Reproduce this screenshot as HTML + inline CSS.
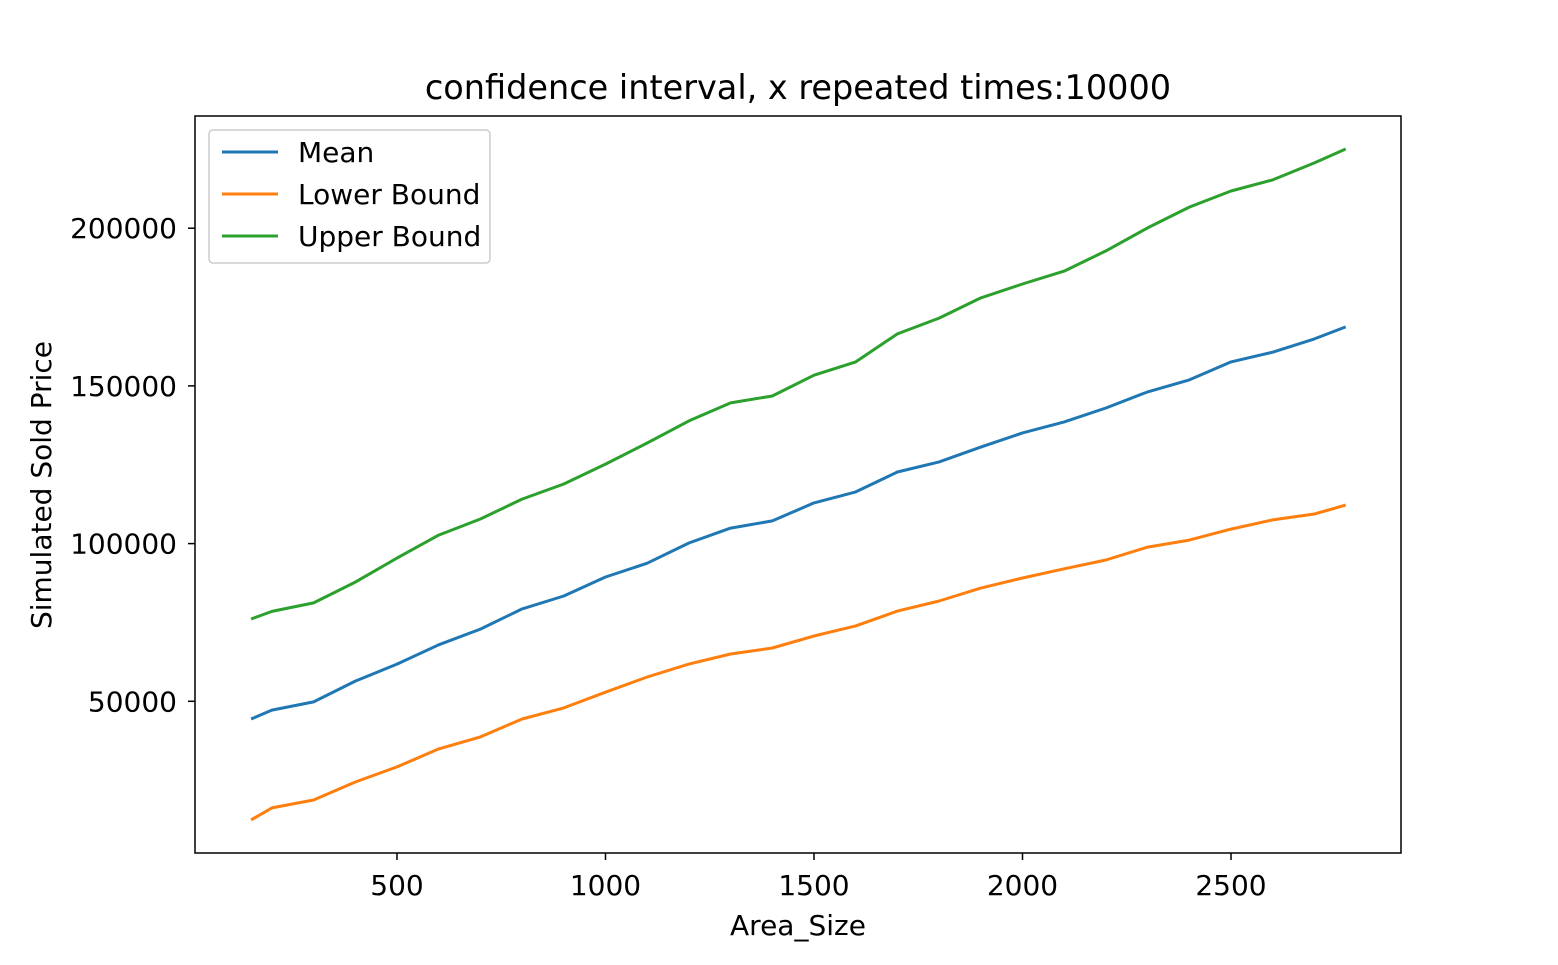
<!DOCTYPE html>
<html><head><meta charset="utf-8"><style>
html,body{margin:0;padding:0;background:#fff}
svg text{font-family:"DejaVu Sans","Liberation Sans",sans-serif;fill:#000}
</style></head><body>
<svg id="chart" width="1558" height="960" xmlns="http://www.w3.org/2000/svg">
<rect width="1558" height="960" fill="#fff"/>
<text x="798" y="99" font-size="33.5" text-anchor="middle">confidence interval, x repeated times:10000</text>
<g id="series"></g>
<g id="xticks"></g>
<g id="yticks"></g>
<rect x="195" y="116" width="1206" height="737" fill="none" stroke="#000" stroke-width="1.5"/>
<text x="798" y="935" font-size="28" text-anchor="middle">Area_Size</text>
<text transform="translate(51,485) rotate(-90)" font-size="28" text-anchor="middle">Simulated Sold Price</text>
<g>
<rect x="209" y="130" width="281" height="133" rx="4" fill="#fff" stroke="#ccc" stroke-width="1.5"/>
<line x1="222" y1="152" x2="278" y2="152" stroke="#1f77b4" stroke-width="3"/>
<text x="298" y="162" font-size="28">Mean</text>
<line x1="222" y1="194" x2="278" y2="194" stroke="#ff7f0e" stroke-width="3"/>
<text x="298" y="204" font-size="28">Lower Bound</text>
<line x1="222" y1="236" x2="278" y2="236" stroke="#2ca02c" stroke-width="3"/>
<text x="298" y="246" font-size="28">Upper Bound</text>
</g>
</svg>
<script>
const xs=[150,200,300,400,500,600,700,800,900,1000,1100,1200,1300,1400,1500,1600,1700,1800,1900,2000,2100,2200,2300,2400,2500,2600,2700,2775];
const meanVals=[44400,47200,49800,56400,61800,67900,72900,79300,83400,89400,93800,100200,104900,107200,112900,116400,122700,125900,130600,135100,138600,143000,148100,151900,157600,160700,164900,168700];
const lowerVals=[12400,16200,18700,24400,29200,34900,38700,44400,47900,52900,57700,61800,65000,66900,70700,73900,78600,81800,85900,89100,92000,94800,98900,101100,104600,107500,109400,112200];
const upperVals=[76100,78500,81200,87800,95400,102700,107800,114100,118900,125200,131900,138900,144600,146800,153400,157600,166500,171500,177900,182300,186400,192800,200100,206700,211800,215300,220700,225100];
const xTicks=[500,1000,1500,2000,2500];
const yTicks=[50000,100000,150000,200000];
const NS="http://www.w3.org/2000/svg";
const xScale=v=>188.5+v*0.417;
const yScale=v=>859-v*157.7/50000;
function mk(t,a){const e=document.createElementNS(NS,t);for(const k in a)e.setAttribute(k,a[k]);return e;}
const sg=document.getElementById('series');
[[meanVals,'#1f77b4','mean-line'],[lowerVals,'#ff7f0e','lower-bound-line'],[upperVals,'#2ca02c','upper-bound-line']].forEach(([vals,c,n])=>{
 const d=vals.map((v,i)=>(i?'L':'M')+xScale(xs[i]).toFixed(1)+','+yScale(v).toFixed(1)).join(' ');
 const p=mk('path',{d:d,fill:'none',stroke:c,'stroke-width':3,'stroke-linejoin':'round'});
 
 
 sg.appendChild(p);
});
const xg=document.getElementById('xticks');
xTicks.forEach(t=>{
 const x=xScale(t);
 const l=mk('line',{x1:x,y1:853,x2:x,y2:860,stroke:'#000','stroke-width':1.5});
 
 
 xg.appendChild(l);
 const tx=mk('text',{x:x,y:895,'font-size':28,'text-anchor':'middle'});
 tx.textContent=t;
 
 
 xg.appendChild(tx);
});
const yg=document.getElementById('yticks');
yTicks.forEach(t=>{
 const y=yScale(t);
 const l=mk('line',{x1:188,y1:y,x2:195,y2:y,stroke:'#000','stroke-width':1.5});
 
 
 yg.appendChild(l);
 const tx=mk('text',{x:177,y:y+10,'font-size':28,'text-anchor':'end'});
 tx.textContent=t;
 
 
 yg.appendChild(tx);
});
</script>
</body></html>
